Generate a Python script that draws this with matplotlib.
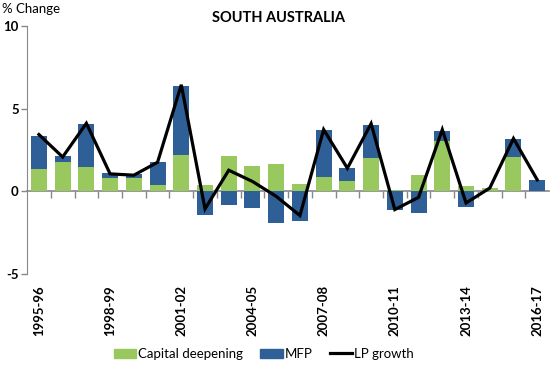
import matplotlib
matplotlib.use("Agg")
import matplotlib.pyplot as plt
import numpy as np
from matplotlib.lines import Line2D
from matplotlib.patches import Patch

years = ["1995-96", "1996-97", "1997-98", "1998-99", "1999-00", "2000-01", "2001-02",
         "2002-03", "2003-04", "2004-05", "2005-06", "2006-07", "2007-08", "2008-09",
         "2009-10", "2010-11", "2011-12", "2012-13", "2013-14", "2014-15", "2015-16", "2016-17"]
capital_deepening = [1.34, 1.76, 1.46, 0.80, 0.80, 0.38, 2.18, 0.38, 2.12, 1.52, 1.64,
                     0.44, 0.86, 0.62, 2.00, 0.08, 0.98, 3.02, 0.32, 0.20, 2.08, 0.0]
mfp = [2.04, 0.36, 2.64, 0.30, 0.24, 1.38, 4.20, -1.42, -0.82, -0.98, -1.94,
       -1.82, 2.88, 0.78, 2.04, -1.10, -1.28, 0.66, -0.92, 0.0, 1.12, 0.68]
lp_growth = [3.44, 2.08, 4.12, 1.06, 0.98, 1.76, 6.45, -1.06, 1.28, 0.60, -0.30,
             -1.46, 3.74, 1.40, 4.10, -1.10, -0.36, 3.74, -0.70, 0.20, 3.20, 0.70]
label_years = years[::3]

green = "#99C95E"
blue = "#2F5F97"
plt.rcParams['font.family'] = ['Lato', 'DejaVu Sans']

fig = plt.figure(figsize=(5.52, 3.68), dpi=100)
ax = fig.add_axes([0.049, 0.2554, 0.9457, 0.6736])

x = np.arange(len(years))
cd = np.array(capital_deepening)
mf = np.array(mfp)
cd_bottom = np.zeros_like(cd)
mf_bottom = np.where((mf >= 0) & (cd >= 0), cd, np.where((mf < 0) & (cd < 0), cd, 0))
w = 0.675
ax.bar(x, cd, w, bottom=cd_bottom, color=green, zorder=2)
ax.bar(x, mf, w, bottom=mf_bottom, color=blue, zorder=2)
ax.plot(x, lp_growth, color="black", lw=2.3, zorder=3, solid_joinstyle='miter')

ax.set_xlim(-0.5, len(years) - 0.5)
ax.set_ylim(-5, 10)
ax.set_yticks([-5, 0, 5, 10])
ax.set_yticklabels(["-5", "0", "5", "10"], fontsize=9.5, fontweight='bold')
ax.tick_params(axis='y', direction='out', length=4, color='#888888', pad=2, width=1)

for s in ['top', 'right', 'bottom']:
    ax.spines[s].set_visible(False)
ax.spines['left'].set_color('#888888')

ax.set_xticks(x[::3])
ax.set_xticklabels(label_years, rotation=90, fontsize=9.5, fontweight='bold')
ax.tick_params(axis='x', length=0, pad=8)

sec = ax.secondary_xaxis(1/3)
sec.set_xticks(np.arange(0.5, len(years) - 0.5, 1))
sec.set_xticklabels([])
sec.tick_params(axis='x', direction='out', length=5, color='#888888', width=1)
sec.spines['bottom'].set_color('#888888')
sec.spines['bottom'].set_linewidth(1.2)

fig.text(0.504, 0.952, "SOUTH AUSTRALIA", ha='center', va='center', fontsize=10.5, fontweight='bold')
fig.text(0.004, 0.975, "% Change", ha='left', va='center', fontsize=9.5)

handles = [Patch(color=green, label="Capital deepening"),
           Patch(color=blue, label="MFP"),
           Line2D([0], [0], color='black', lw=2.3, label="LP growth")]
fig.legend(handles=handles, loc='center', bbox_to_anchor=(0.478, 0.038), ncol=3, frameon=False,
           fontsize=9.5, handlelength=1.7, handleheight=0.7, columnspacing=1.3, handletextpad=0.15)

fig.savefig("out.png", dpi=100)
